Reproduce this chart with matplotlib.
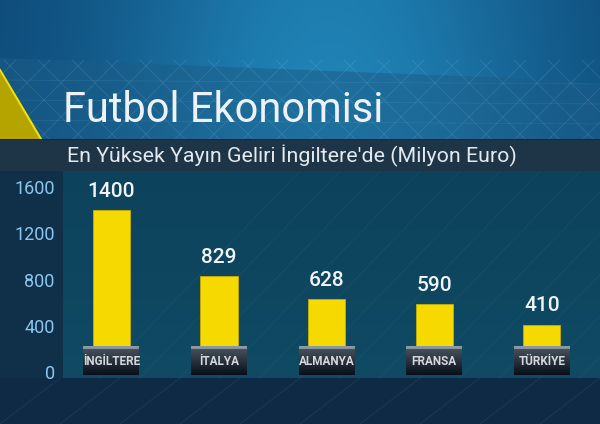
import numpy as np
import matplotlib
matplotlib.use("Agg")
import matplotlib.pyplot as plt
from matplotlib.patches import Rectangle, Polygon

# data
countries = ["İNGİLTERE", "İTALYA", "ALMANYA", "FRANSA", "TÜRKİYE"]
revenue = [1400, 829, 628, 590, 410]
yticks = [0, 400, 800, 1200, 1600]

title = "Futbol Ekonomisi"
subtitle = "En Yüksek Yayın Geliri İngiltere'de (Milyon Euro)"

plt.rcParams['font.family'] = ['Roboto', 'DejaVu Sans']

W, H = 600, 424
fig = plt.figure(figsize=(6, 4.24), dpi=100)

# background in pixel coordinates
bg = fig.add_axes([0, 0, 1, 1])
bg.set_xlim(0, W)
bg.set_ylim(H, 0)
bg.axis("off")

# top blue gradient (lighter in the middle)
xs = np.linspace(0, 1, 300)
ys = np.linspace(0, 1, 70)
gx = np.exp(-((xs - 0.55) / 0.38) ** 2)
dark = np.array([0.05, 0.28, 0.46])
light = np.array([0.13, 0.53, 0.73])
top = dark[None, None, :] + (light - dark)[None, None, :] * gx[None, :, None] * (0.85 + 0.15 * ys[:, None, None])
bg.imshow(top, extent=(0, W, 140, 0), aspect="auto", zorder=0)

# title band with lattice
band = Polygon([(0, 58), (560, 80), (W, 85), (W, 140), (0, 140)], closed=True,
               facecolor="#1c5d88", alpha=0.55, edgecolor="none", zorder=1)
bg.add_patch(band)
for x0 in np.arange(-200, 700, 34):
    bg.plot([x0, x0 + 80], [140, 60], color="#8fc3e6", lw=0.6, alpha=0.18, zorder=2)
    bg.plot([x0, x0 + 80], [60, 140], color="#8fc3e6", lw=0.6, alpha=0.18, zorder=2)
for yy in [80, 100, 120]:
    bg.plot([0, W], [yy, yy + 4], color="#8fc3e6", lw=0.5, alpha=0.14, zorder=2)

# yellow triangle
bg.add_patch(Polygon([(0, 72), (0, 139), (41, 139)], closed=True,
                     facecolor="#b5a300", edgecolor="none", zorder=3))
bg.plot([0, 41], [70, 139], color="#f4e200", lw=1.5, zorder=3)

# subtitle band
bg.add_patch(Rectangle((0, 139), W, 32, facecolor="#0b2438", alpha=0.92, edgecolor="none", zorder=3))

# chart panel
bg.add_patch(Rectangle((0, 171), 63, 207, facecolor="#10304a", edgecolor="none", zorder=1))
panel = np.linspace(0, 1, 60)[:, None, None]
pc = np.array([0.05, 0.26, 0.36]) * (1 - panel) + np.array([0.06, 0.29, 0.39]) * panel
bg.imshow(np.repeat(pc, 2, axis=1), extent=(63, W, 378, 171), aspect="auto", zorder=1)
for x0 in np.arange(300, 800, 40):
    bg.plot([x0, x0 - 200], [171, 378], color="#4c8fb0", lw=0.6, alpha=0.12, zorder=2)

# bottom floor
bg.add_patch(Rectangle((0, 378), W, 46, facecolor="#0f2a44", edgecolor="none", zorder=1))
for x0 in np.arange(0, 800, 60):
    bg.plot([x0, x0 - 60], [378, 424], color="#3c6a90", lw=0.6, alpha=0.25, zorder=2)

bg.text(63, 110, title, fontsize=30, color="#eef2f5", va="center", ha="left", zorder=5)
bg.text(67, 156, subtitle, fontsize=15.4, color="#e4e9ee", va="center", ha="left", zorder=5)

# bar chart axes
ax = fig.add_axes([63 / W, 1 - 378 / H, (W - 63) / W, 207 / H])
ax.patch.set_alpha(0)
for s in ax.spines.values():
    s.set_visible(False)

x = np.arange(len(countries))
ax.bar(x, revenue, width=0.345, color="#f6d900", edgecolor="#c9ae00", linewidth=0.6, zorder=2)

for xi, v in zip(x, revenue):
    ax.annotate(str(v), (xi, v), xytext=(0, 9.5), textcoords="offset points",
                ha="center", va="baseline", fontsize=15, fontweight="medium",
                color="#f2f4f6", zorder=5)

# label boxes under bars
grad = np.linspace(0, 1, 40)[:, None, None]
box = np.array([0.30, 0.34, 0.38]) * (1 - grad) + np.array([0.03, 0.06, 0.10]) * grad
box[:4] = np.array([0.55, 0.6, 0.64])
for xi, name in zip(x, countries):
    ax.imshow(np.repeat(box, 2, axis=1), extent=(xi - 0.26, xi + 0.26, -28, 218),
              aspect="auto", zorder=3)
    ax.text(xi, 95, name, ha="center", va="center", fontsize=8.5, fontweight="bold",
            color="#d4d9de", zorder=4)
ax.set_xlim(-0.45, 4.54)
ax.set_ylim(-52, 1740)

ax.set_xticks([])
ax.set_yticks(yticks)
ax.set_yticklabels([str(t) for t in yticks], fontsize=13, color="#8cc6ee")
ax.tick_params(axis="y", length=0, pad=6)

fig.savefig("out.png", dpi=100)
